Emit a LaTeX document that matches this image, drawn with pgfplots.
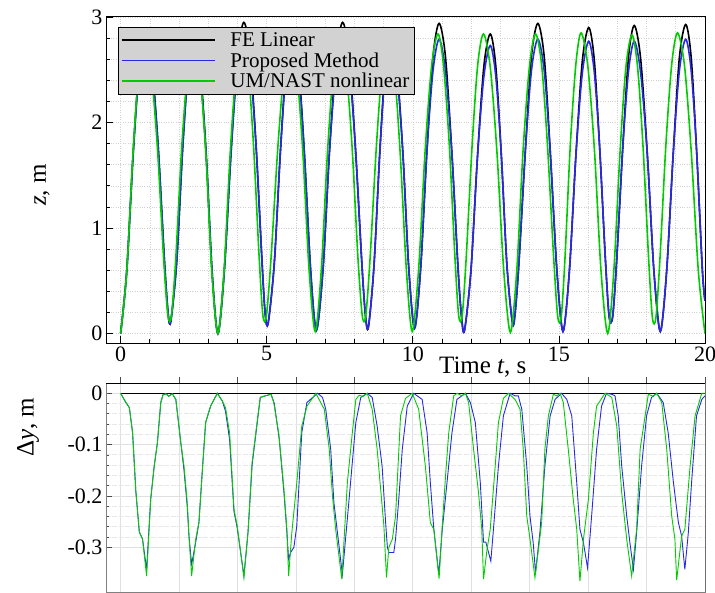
\documentclass[border=0pt]{standalone}
\usepackage{fontspec}
\setmainfont{Liberation Serif}
\usepackage{pgfplots}
\pgfplotsset{compat=1.18}
\definecolor{fblue}{RGB}{40,40,230}
\definecolor{fgreen}{RGB}{0,204,0}
\definecolor{leggray}{RGB}{210,210,210}

\begin{document}
\begin{tikzpicture}
\path[use as bounding box] (-106pt,-250pt) rectangle (609pt,343pt);

% upper panel: z(t)
\begin{axis}[
    at={(0pt,0pt)}, anchor=south west,
    scale only axis, width=599pt, height=327pt,
    xmin=-0.5, xmax=20, ymin=-0.09, ymax=3.01,
    xtick={0,5,10,15,20}, xticklabels={0,5,10,15,20},
    ytick={0,1,2,3}, yticklabels={0,1,2,3},
    minor x tick num=4, minor y tick num=4,
    xtick pos=left, ytick pos=left,
    tick align=inside,
    major tick length=7pt, minor tick length=4pt,
    grid=both, grid style={dotted, black!18, line width=0.6pt},
    axis line style={line width=0.9pt},
    every tick/.style={black, line width=0.7pt},
    ticklabel style={font=\fontsize{22}{22}\selectfont},
    label style={font=\fontsize{25}{25}\selectfont},
    xlabel={Time \textit{t}, s},
    xlabel style={at={(axis description cs:0.629,-0.073)}, anchor=center},
    ylabel={\textit{z}, m},
    ylabel style={at={(axis description cs:-0.107,0.483)}, anchor=center},
    legend style={at={(axis description cs:0.02,0.966)}, anchor=north west,
        fill=leggray, draw=black, inner sep=2.5pt,
        column sep=13pt, font=\fontsize{21}{21}\selectfont,
        nodes={inner sep=2pt}},
    legend cell align=left,
    legend image code/.code={\draw[#1, line width=1.7pt] (0pt,0pt) -- (93pt,0pt);},
]
% FE linear
\addplot[black, line width=1.6pt, smooth] coordinates {
(0,0) (0.21,0.592) (0.43,1.703) (0.64,2.543) (0.85,2.86) (1.07,2.556) (1.29,1.751) (1.50,0.687) (1.63,0.18) (1.72,0.12)
(1.92,0.683) (2.12,1.739) (2.32,2.556) (2.52,2.86) (2.72,2.543) (2.93,1.691) (3.13,0.588) (3.33,0)
(3.55,0.599) (3.78,1.721) (4.00,2.623) (4.22,2.95) (4.43,2.634) (4.64,1.761) (4.84,0.678) (4.95,0.18) (5.05,0.10)
(5.26,0.667) (5.47,1.731) (5.67,2.554) (5.88,2.86) (6.09,2.546) (6.29,1.703) (6.50,0.612) (6.70,0.03)
(6.93,0.622) (7.15,1.733) (7.38,2.626) (7.60,2.95) (7.82,2.629) (8.04,1.745) (8.26,0.646) (8.38,0.17) (8.48,0.06)
(8.67,0.635) (8.87,1.715) (9.06,2.549) (9.25,2.86) (9.45,2.548) (9.66,1.711) (9.86,0.628) (10.06,0.05)
(10.27,0.625) (10.48,1.715) (10.69,2.619) (10.90,2.94) (11.12,2.617) (11.34,1.697) (11.55,0.610) (11.67,0.15) (11.77,0.03)
(11.99,0.597) (12.21,1.661) (12.43,2.528) (12.65,2.84) (12.84,2.536) (13.03,1.689) (13.22,0.652) (13.41,0.10) (13.50,0.19)
(13.63,0.665) (13.85,1.725) (14.06,2.625) (14.28,2.94) (14.50,2.616) (14.71,1.693) (14.93,0.602) (15.14,0.02)
(15.36,0.598) (15.58,1.681) (15.80,2.580) (16.02,2.90) (16.21,2.596) (16.40,1.736) (16.59,0.708) (16.72,0.16) (16.84,0.16)
(16.98,0.708) (17.18,1.736) (17.38,2.614) (17.58,2.92) (17.80,2.598) (18.03,1.681) (18.25,0.598) (18.47,0.02)
(18.69,0.602) (18.91,1.693) (19.12,2.607) (19.34,2.93) (19.53,2.607) (19.72,1.693) (19.91,0.602) (20,0.31)
};
\addlegendentry{\rule[-5pt]{0pt}{20pt}FE Linear}
% proposed method
\addplot[fblue, line width=1.6pt, smooth] coordinates {
(0,0) (0.21,0.592) (0.43,1.703) (0.64,2.507) (0.85,2.82) (1.07,2.520) (1.29,1.751) (1.50,0.687) (1.63,0.18) (1.72,0.12)
(1.92,0.683) (2.12,1.739) (2.32,2.503) (2.52,2.80) (2.72,2.489) (2.93,1.691) (3.13,0.588) (3.33,0)
(3.55,0.599) (3.78,1.721) (4.00,2.534) (4.22,2.85) (4.43,2.545) (4.64,1.761) (4.84,0.678) (4.95,0.18) (5.05,0.10)
(5.26,0.667) (5.47,1.731) (5.67,2.500) (5.88,2.80) (6.09,2.493) (6.29,1.703) (6.50,0.612) (6.70,0.03)
(6.93,0.622) (7.15,1.733) (7.38,2.537) (7.60,2.85) (7.82,2.540) (8.04,1.745) (8.26,0.646) (8.38,0.17) (8.48,0.06)
(8.67,0.635) (8.87,1.715) (9.06,2.496) (9.25,2.80) (9.45,2.495) (9.66,1.711) (9.86,0.628) (10.06,0.05)
(10.27,0.625) (10.48,1.715) (10.69,2.486) (10.90,2.79) (11.12,2.484) (11.34,1.697) (11.55,0.610) (11.67,0.15) (11.77,0.03)
(11.99,0.597) (12.21,1.661) (12.43,2.430) (12.65,2.73) (12.84,2.438) (13.03,1.689) (13.22,0.652) (13.41,0.10) (13.50,0.19)
(13.63,0.665) (13.85,1.725) (14.06,2.491) (14.28,2.79) (14.50,2.483) (14.71,1.693) (14.93,0.602) (15.14,0.02)
(15.36,0.598) (15.58,1.681) (15.80,2.465) (16.02,2.77) (16.21,2.480) (16.40,1.736) (16.59,0.708) (16.72,0.16) (16.84,0.16)
(16.98,0.708) (17.18,1.736) (17.38,2.480) (17.58,2.77) (17.80,2.465) (18.03,1.681) (18.25,0.598) (18.47,0.02)
(18.69,0.602) (18.91,1.693) (19.12,2.483) (19.34,2.79) (19.53,2.483) (19.72,1.693) (19.91,0.602) (20,0.31)
};
\addlegendentry{\rule[-5pt]{0pt}{20pt}Proposed Method}
% UM/NAST nonlinear
\addplot[fgreen, line width=1.6pt, smooth] coordinates {
(0,0) (0.21,0.588) (0.42,1.691) (0.62,2.489) (0.83,2.80) (1.04,2.508) (1.26,1.759) (1.47,0.722) (1.62,0.17) (1.74,0.17)
(1.89,0.722) (2.09,1.759) (2.30,2.508) (2.50,2.80) (2.71,2.489) (2.92,1.691) (3.12,0.588) (3.33,0)
(3.54,0.594) (3.75,1.709) (3.96,2.516) (4.17,2.83) (4.36,2.535) (4.55,1.777) (4.74,0.729) (4.87,0.17) (4.99,0.17)
(5.15,0.722) (5.38,1.759) (5.60,2.508) (5.82,2.80) (6.03,2.491) (6.24,1.699) (6.45,0.604) (6.66,0.02)
(6.87,0.610) (7.08,1.717) (7.29,2.518) (7.50,2.83) (7.71,2.535) (7.92,1.777) (8.12,0.729) (8.27,0.17) (8.39,0.17)
(8.54,0.722) (8.75,1.759) (8.95,2.508) (9.16,2.80) (9.37,2.491) (9.57,1.699) (9.78,0.604) (9.98,0.02)
(10.20,0.612) (10.42,1.723) (10.64,2.527) (10.86,2.84) (11.05,2.544) (11.25,1.783) (11.44,0.731) (11.57,0.17) (11.69,0.17)
(11.83,0.731) (12.03,1.783) (12.22,2.544) (12.42,2.84) (12.65,2.526) (12.88,1.719) (13.11,0.604) (13.34,0.01)
(13.56,0.604) (13.77,1.719) (13.99,2.526) (14.20,2.84) (14.41,2.543) (14.61,1.779) (14.82,0.723) (14.96,0.16) (15.08,0.16)
(15.21,0.725) (15.39,1.785) (15.58,2.551) (15.76,2.85) (15.99,2.534) (16.22,1.721) (16.44,0.599) (16.67,0)
(16.88,0.594) (17.09,1.709) (17.29,2.516) (17.50,2.83) (17.69,2.533) (17.88,1.769) (18.07,0.713) (18.20,0.15) (18.32,0.15)
(18.46,0.717) (18.66,1.781) (18.86,2.550) (19.06,2.85) (19.30,2.534) (19.53,1.721) (19.77,0.599) (20,0)
};
\addlegendentry{\rule[-5pt]{0pt}{20pt}UM/NAST nonlinear}
\end{axis}

% lower panel: Delta y(t)
\begin{axis}[
    at={(0pt,-249pt)}, anchor=south west,
    scale only axis, width=599pt, height=209pt,
    xmin=-0.5, xmax=20, ymin=-0.387, ymax=0.02,
    xtick={0,2,...,20}, xticklabels={},
    xtick pos=right, xtick align=outside,
    ytick={-0.3,-0.2,-0.1,0}, yticklabels={-0.3,-0.2,-0.1,0},
    minor y tick num=4, ytick pos=left, ytick align=inside,
    major tick length=6pt, minor tick length=3pt,
    grid=both, major grid style={black!12, line width=0.8pt},
    minor grid style={black!9, line width=0.8pt, dash pattern=on 5pt off 1.5pt},
    axis line style={black!50, line width=0.9pt},
    every tick/.style={black!70, line width=0.7pt},
    ticklabel style={font=\fontsize{22}{22}\selectfont},
    label style={font=\fontsize{25}{25}\selectfont},
    ylabel={Δ\textit{y}, m},
    ylabel style={at={(axis description cs:-0.130,0.789)}, anchor=center},
]
\addplot[black, line width=1.1pt] coordinates {(0,0) (20,0)};
\addplot[fblue, line width=0.9pt] coordinates {
(0,0) (0.18,-0.018) (0.30,-0.028) (0.41,-0.077) (0.52,-0.19) (0.64,-0.27) (0.75,-0.284) (0.89,-0.343) (1.03,-0.206)
(1.15,-0.142) (1.26,-0.096) (1.375,-0.018) (1.45,-0.003) (1.55,-0.001) (1.64,-0.006) (1.77,-0.001) (1.89,-0.012)
(2.06,-0.096) (2.17,-0.150) (2.28,-0.220) (2.34,-0.278) (2.43,-0.333) (2.57,-0.290) (2.68,-0.252) (2.80,-0.148)
(2.91,-0.057) (3.08,-0.025) (3.31,0) (3.48,-0.015) (3.59,-0.035) (3.73,-0.090) (3.88,-0.230) (3.99,-0.262)
(4.22,-0.355) (4.36,-0.271) (4.50,-0.140) (4.67,-0.060) (4.78,-0.008) (4.95,-0.005) (5.15,-0.002) (5.26,-0.020)
(5.43,-0.090) (5.60,-0.200) (5.69,-0.270) (5.75,-0.323) (5.82,-0.31) (5.93,-0.30) (6.03,-0.258) (6.20,-0.077)
(6.375,-0.018) (6.74,0) (6.91,-0.008) (7.02,-0.031) (7.19,-0.109) (7.30,-0.213) (7.42,-0.271) (7.59,-0.353)
(7.82,-0.206) (8.05,-0.057) (8.22,-0.008) (8.44,0) (8.61,-0.008) (8.78,-0.064) (8.95,-0.142) (9.07,-0.252)
(9.13,-0.30) (9.18,-0.31) (9.35,-0.31) (9.41,-0.284) (9.52,-0.206) (9.64,-0.109) (9.81,-0.025) (10.03,0)
(10.32,-0.012) (10.49,-0.077) (10.60,-0.174) (10.72,-0.265) (10.89,-0.353) (11.00,-0.271) (11.17,-0.174)
(11.34,-0.077) (11.51,-0.012) (11.80,0) (11.97,-0.018) (12.14,-0.057) (12.31,-0.174) (12.42,-0.29) (12.50,-0.29)
(12.67,-0.327) (12.76,-0.265) (12.93,-0.142) (13.10,-0.044) (13.33,0) (13.50,-0.005) (13.61,-0.005) (13.73,-0.031)
(13.90,-0.142) (14.01,-0.239) (14.12,-0.291) (14.20,-0.349) (14.35,-0.271) (14.52,-0.142) (14.70,-0.044)
(14.87,-0.012) (15.09,0) (15.27,-0.012) (15.44,-0.044) (15.61,-0.174) (15.72,-0.265) (15.84,-0.291) (15.98,-0.34)
(16.12,-0.239) (16.29,-0.109) (16.46,-0.025) (16.63,0) (16.81,-0.002) (16.92,-0.005) (17.03,-0.044) (17.15,-0.142)
(17.32,-0.239) (17.43,-0.291) (17.55,-0.343) (17.66,-0.271) (17.83,-0.142) (18.00,-0.044) (18.17,-0.008) (18.35,0)
(18.57,-0.018) (18.74,-0.077) (18.92,-0.174) (19.09,-0.252) (19.20,-0.278) (19.31,-0.343) (19.43,-0.271)
(19.54,-0.174) (19.71,-0.044) (19.89,-0.012) (20,-0.005)
};
\addplot[fgreen, line width=0.9pt] coordinates {
(0,0) (0.18,-0.018) (0.30,-0.028) (0.41,-0.077) (0.52,-0.19) (0.64,-0.27) (0.75,-0.284) (0.89,-0.356) (1.03,-0.206)
(1.15,-0.142) (1.26,-0.096) (1.375,-0.018) (1.45,-0.003) (1.55,-0.001) (1.64,-0.006) (1.77,-0.001) (1.89,-0.012)
(2.06,-0.096) (2.17,-0.142) (2.28,-0.213) (2.34,-0.278) (2.43,-0.356) (2.57,-0.284) (2.68,-0.252) (2.80,-0.148)
(2.91,-0.057) (3.08,-0.025) (3.31,0) (3.48,-0.015) (3.59,-0.028) (3.73,-0.077) (3.88,-0.226) (3.99,-0.258)
(4.22,-0.359) (4.36,-0.271) (4.50,-0.135) (4.67,-0.057) (4.78,-0.008) (4.95,-0.005) (5.15,-0.002) (5.24,-0.018)
(5.41,-0.077) (5.58,-0.18) (5.69,-0.265) (5.75,-0.356) (5.86,-0.271) (6.03,-0.174) (6.20,-0.064) (6.38,-0.025)
(6.68,0) (6.97,-0.031) (7.14,-0.109) (7.25,-0.2) (7.36,-0.265) (7.57,-0.362) (7.76,-0.174) (7.93,-0.077)
(8.05,-0.012) (8.16,-0.004) (8.30,-0.006) (8.44,0) (8.61,-0.031) (8.78,-0.109) (8.90,-0.187) (9.01,-0.258)
(9.10,-0.359) (9.18,-0.30) (9.30,-0.284) (9.41,-0.239) (9.58,-0.044) (9.75,-0.01) (9.98,0) (10.20,-0.031)
(10.43,-0.142) (10.60,-0.252) (10.72,-0.265) (10.90,-0.361) (11.00,-0.265) (11.12,-0.161) (11.23,-0.077)
(11.40,-0.005) (11.52,0) (11.68,-0.005) (11.80,0) (11.91,-0.018) (12.08,-0.109) (12.25,-0.194) (12.36,-0.265)
(12.42,-0.362) (12.54,-0.304) (12.65,-0.265) (12.82,-0.142) (12.93,-0.057) (13.10,-0.01) (13.27,0) (13.50,-0.012)
(13.67,-0.031) (13.78,-0.109) (13.90,-0.239) (14.01,-0.284) (14.18,-0.359) (14.30,-0.304) (14.41,-0.252)
(14.52,-0.109) (14.64,-0.044) (14.81,-0.002) (14.92,-0.005) (15.04,0) (15.15,-0.018) (15.32,-0.109) (15.49,-0.206)
(15.61,-0.265) (15.72,-0.366) (15.84,-0.284) (16.01,-0.206) (16.18,-0.077) (16.29,-0.025) (16.58,0) (16.81,-0.008)
(16.98,-0.064) (17.15,-0.194) (17.32,-0.284) (17.49,-0.356) (17.66,-0.265) (17.78,-0.109) (17.95,-0.044)
(18.06,-0.002) (18.23,-0.006) (18.35,0) (18.52,-0.018) (18.69,-0.109) (18.86,-0.239) (18.97,-0.284) (19.03,-0.364)
(19.20,-0.278) (19.31,-0.265) (19.49,-0.142) (19.66,-0.044) (19.89,0) (20,0)
};
\draw[black, line width=0.9pt] (rel axis cs:0,1) -- (rel axis cs:1,1) -- (rel axis cs:1,0);
\end{axis}
\end{tikzpicture}
\end{document}
